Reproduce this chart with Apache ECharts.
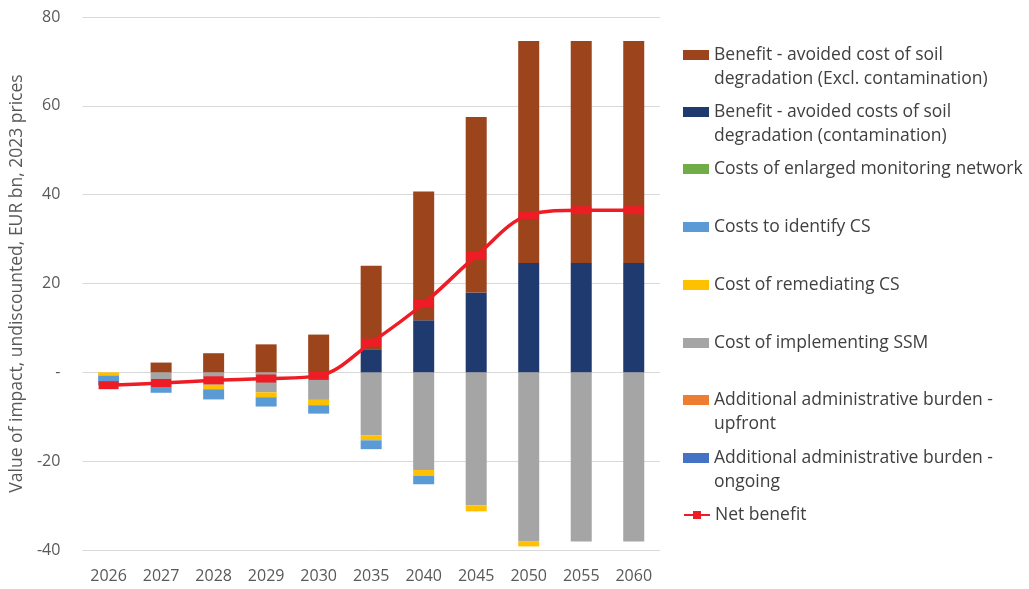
<!DOCTYPE html>
<html>
<head>
<meta charset="utf-8">
<script src="https://cdn.jsdelivr.net/npm/echarts@6/dist/echarts.min.js"></script>
<style>html,body{margin:0;padding:0;background:#fff;}#c{width:1029px;height:589px;}</style>
</head>
<body>
<div id="c"></div>
<script>
var categories = ['2026','2027','2028','2029','2030','2035','2040','2045','2050','2055','2060'];
var adminOngoing = [0,0,0,0,0,0,0,0,0,0,0];
var adminUpfront = [0,0,0,0,0,0,0,0,0,0,0];
var ssmCost = [0,-2.0,-2.8,-4.5,-6.2,-14.2,-22.0,-30.0,-38.0,-38.1,-38.1];
var remediateCost = [-0.7,-0.5,-1.0,-1.1,-1.2,-1.1,-1.3,-1.3,-1.2,0,0];
var identifyCost = [-2.2,-2.1,-2.3,-2.1,-1.9,-2.0,-1.9,0,0,0,0];
var monitoringCost = [0,0,0,0,0,0,0,0,0,0,0];
var benefitContam = [0,0,0,0,0,5.2,11.7,18.0,24.6,24.6,24.6];
var benefitExcl = [0,2.2,4.3,6.3,8.5,18.8,29.0,39.5,50.0,50.0,50.0];
var netBenefit = [-2.9,-2.4,-1.8,-1.4,-0.8,6.7,15.5,26.2,35.4,36.5,36.5];
var yTicks = [-40,-20,0,20,40,60,80];

var names = {
  excl: 'Benefit - avoided cost of soil\ndegradation (Excl. contamination)',
  contam: 'Benefit - avoided costs of soil\ndegradation (contamination)',
  monitor: 'Costs of enlarged monitoring network',
  identify: 'Costs to identify CS',
  remediate: 'Cost of remediating CS',
  ssm: 'Cost of implementing SSM',
  upfront: 'Additional administrative burden -\nupfront',
  ongoing: 'Additional administrative burden -\nongoing',
  net: 'Net benefit'
};
var legendOrder = ['excl','contam','monitor','identify','remediate','ssm','upfront','ongoing','net'];
var colors = {
  excl:'#9C441C', contam:'#1F3A6E', monitor:'#70AD47', identify:'#5B9BD5',
  remediate:'#FFC000', ssm:'#A5A5A5', upfront:'#ED7D31', ongoing:'#4472C4', net:'#EE1C25'
};

function bar(key, data) {
  return {
    name: names[key], type: 'bar', stack: 'total', data: data,
    barWidth: '40%', itemStyle: {color: colors[key]}, emphasis: {disabled: true}
  };
}

var series = [
  bar('ongoing', adminOngoing),
  bar('upfront', adminUpfront),
  bar('ssm', ssmCost),
  bar('remediate', remediateCost),
  bar('identify', identifyCost),
  bar('monitor', monitoringCost),
  bar('contam', benefitContam),
  bar('excl', benefitExcl),
  {
    name: names.net, type: 'line', data: netBenefit, smooth: 0.35,
    symbol: 'rect', symbolSize: [20, 8],
    lineStyle: {color: colors.net, width: 3.5},
    itemStyle: {color: colors.net}, z: 5
  }
];

var LH = 24.5;
var firstLineY = [55,112,169,227,285,343,400,458,515];
var legends = legendOrder.map(function (k, i) {
  var two = names[k].indexOf('\n') >= 0;
  return {
    data: [names[k]], orient: 'vertical', left: 683,
    top: two ? firstLineY[i] - 1.5 * LH : firstLineY[i] - 0.5 * LH,
    padding: 0, itemWidth: 26, itemHeight: 10, selectedMode: false,
    icon: k === 'net' ? undefined : 'rect',
    formatter: function (n) { return two ? ' \n' + n : n; },
    textStyle: {fontFamily: 'Open Sans', fontSize: 17.5, color: '#404040', lineHeight: LH}
  };
});

var chart = echarts.init(document.getElementById('c'), null, {renderer: 'canvas'});
chart.setOption({
  animation: false,
  backgroundColor: '#fff',
  color: legendOrder.map(function(k){return colors[k];}),
  legend: legends,
  grid: {left: 82, right: 369, top: 17, bottom: 39, containLabel: false},
  xAxis: {
    type: 'category', data: categories, position: 'bottom',
    axisLine: {show: false, onZero: false}, axisTick: {show: false},
    axisLabel: {color: '#595959', fontFamily: 'Open Sans', fontSize: 16, margin: 18}
  },
  yAxis: {
    type: 'value', min: yTicks[0], max: yTicks[yTicks.length-1], interval: 20,
    name: 'Value of impact, undiscounted, EUR bn, 2023 prices',
    nameLocation: 'middle', nameGap: 53,
    nameTextStyle: {color: '#595959', fontFamily: 'Open Sans', fontSize: 17.5},
    axisLine: {show: false}, axisTick: {show: false},
    splitLine: {lineStyle: {color: '#D9D9D9', width: 1}},
    axisLabel: {color: '#595959', fontFamily: 'Open Sans', fontSize: 16, margin: 22,
      formatter: function (v) { return v === 0 ? '-' : String(v); }}
  },
  series: series
});
</script>
</body>
</html>
